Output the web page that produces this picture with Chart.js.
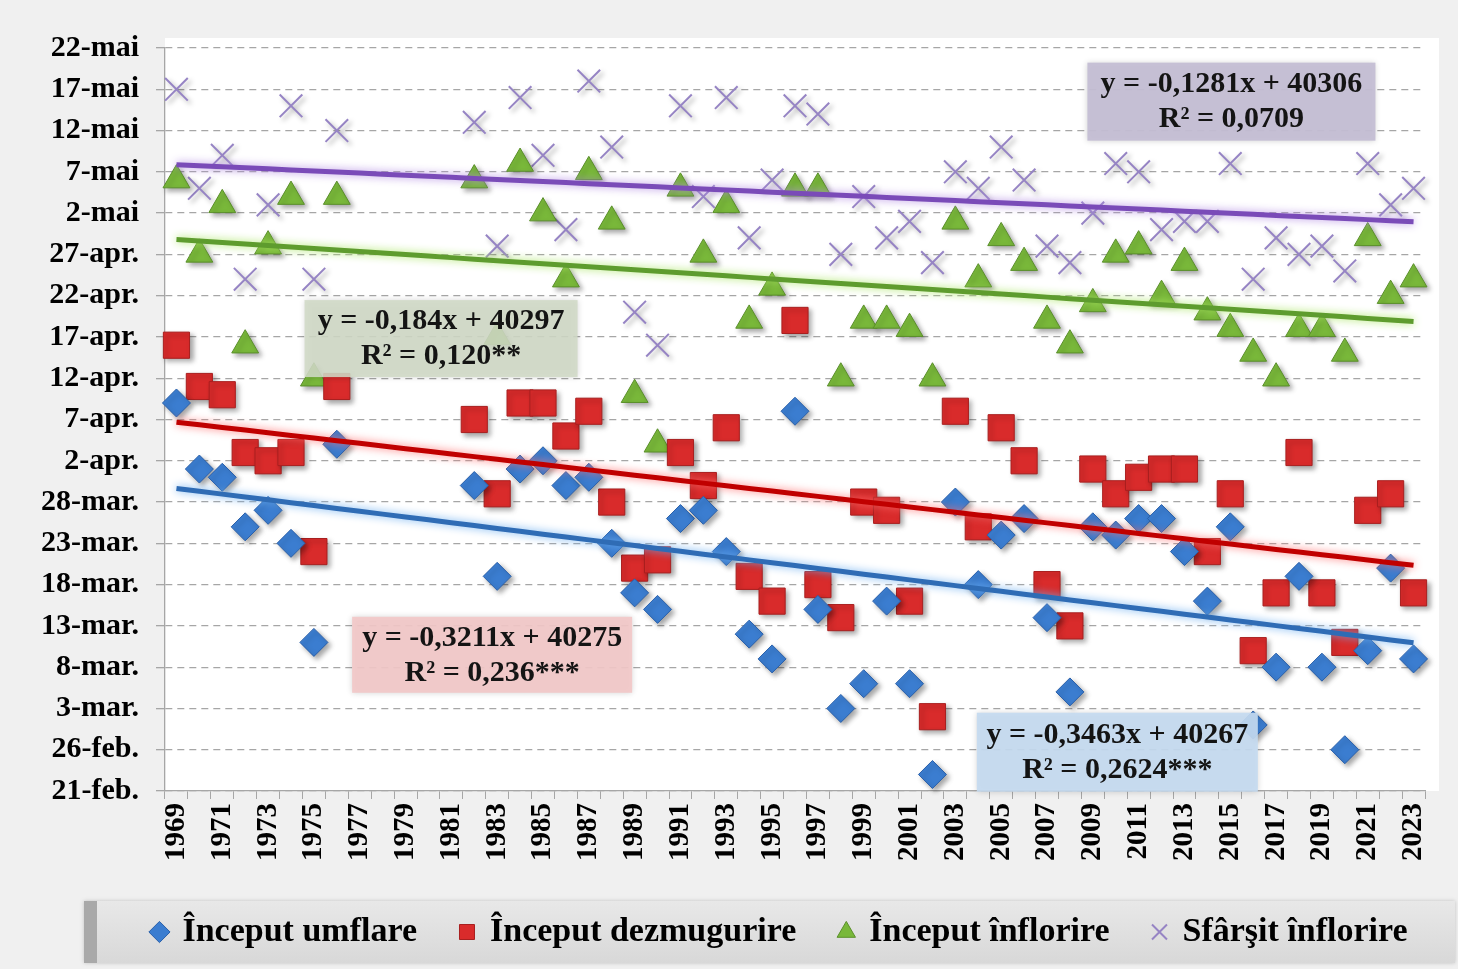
<!DOCTYPE html>
<html>
<head>
<meta charset="utf-8">
<title>Fenologie 1969-2023</title>
<script src="https://cdn.jsdelivr.net/npm/chart.js@4.4.1/dist/chart.umd.min.js"></script>
<style>
  html, body { margin: 0; padding: 0; background: #f0f0f0; }
  #wrap { width: 1458px; height: 969px; }
</style>
</head>
<body>
<div id="wrap"><canvas id="myChart"></canvas></div>
<script>
const years = [
  "1969", "1970", "1971", "1972", "1973", "1974", "1975", "1976", "1977", "1978",
  "1979", "1980", "1981", "1982", "1983", "1984", "1985", "1986", "1987", "1988",
  "1989", "1990", "1991", "1992", "1993", "1994", "1995", "1996", "1997", "1998",
  "1999", "2000", "2001", "2002", "2003", "2004", "2005", "2006", "2007", "2008",
  "2009", "2010", "2011", "2012", "2013", "2014", "2015", "2016", "2017", "2018",
  "2019", "2020", "2021", "2022", "2023"
];

// axa Y: ziua din an (52 = 21-feb ... 142 = 22-mai), din 5 in 5 zile
const yTickLabels = [
  "21-feb.", "26-feb.", "3-mar.", "8-mar.", "13-mar.", "18-mar.", "23-mar.", "28-mar.",
  "2-apr.", "7-apr.", "12-apr.", "17-apr.", "22-apr.", "27-apr.",
  "2-mai", "7-mai", "12-mai", "17-mai", "22-mai"
];

const seriesNames = ["Început umflare", "Început dezmugurire", "Început înflorire", "Sfârşit înflorire"];

// ziua din an, 1977-1981 lipsesc
const inceputUmflare = [
  99, 91, 90, 84, 86, 82, 70, 94, null, null,
  null, null, null, 89, 78, 91, 92, 89, 90, 82,
  76, 74, 85, 86, 81, 71, 68, 98, 74, 62,
  65, 75, 65, 54, 87, 77, 83, 85, 73, 64,
  84, 83, 85, 85, 81, 75, 84, 60, 67, 78,
  67, 57, 69, 79, 68
];
const inceputDezmugurire = [
  106, 101, 100, 93, 92, 93, 81, 101, null, null,
  null, null, null, 97, 88, 99, 99, 95, 98, 87,
  79, 80, 93, 89, 96, 78, 75, 109, 77, 73,
  87, 86, 75, 61, 98, 84, 96, 92, 77, 72,
  91, 88, 90, 91, 91, 81, 88, 69, 76, 93,
  76, 70, 86, 88, 76
];
const inceputInflorire = [
  126, 117, 123, 106, 118, 124, 102, 124, null, null,
  null, null, null, 126, 107, 128, 122, 114, 127, 121,
  100, 94, 125, 117, 123, 109, 113, 125, 125, 102,
  109, 109, 108, 102, 121, 114, 119, 116, 109, 106,
  111, 117, 118, 112, 116, 110, 108, 105, 102, 108,
  108, 105, 119, 112, 114
];
const sfarsitInflorire = [
  137, 125, 129, 114, 123, 135, 114, 132, null, null,
  null, null, null, 133, 118, 136, 129, 120, 138, 130,
  110, 106, 135, 124, 136, 119, 126, 135, 134, 117,
  124, 119, 121, 116, 127, 125, 130, 126, 118, 116,
  122, 128, 127, 120, 121, 121, 128, 114, 119, 117,
  118, 115, 128, 123, 125
];

// trend liniar din Excel: y = a*x + b, x = 1..55, y = data seriala Excel (anul 2010)
const trendSlopes = [-0.3463, -0.3211, -0.184, -0.1281];
const trendIntercepts = [40267, 40275, 40297, 40306];
const trendTexts = [
  ["y = -0,3463x + 40267", "R² = 0,2624***"],
  ["y = -0,3211x + 40275", "R² = 0,236***"],
  ["y = -0,184x + 40297", "R² = 0,120**"],
  ["y = -0,1281x + 40306", "R² = 0,0709"]
];
const EXCEL_DAY0 = 40178; // 31-dec-2009

const FONT = "'Liberation Serif', 'Times New Roman', serif";

const markerStyles = [
  { style: "rectRot", radius: 14, fill: "#3b7dd0", line: "#2a60aa", width: 1 },
  { style: "rect", radius: 18.5, fill: "#d92b2b", line: "#a81f1f", width: 1 },
  { style: "triangle", radius: 15.5, fill: "#79b83a", line: "#5a8f2a", width: 1 },
  { style: "crossRot", radius: 16, fill: "#9684c4", line: "#9684c4", width: 2 }
];
const trendStyles = [
  { color: "#2f6cb5", glow: "rgba(110,175,240,0.95)" },
  { color: "#c00000", glow: "rgba(255,110,110,0.9)" },
  { color: "#5e9c2e", glow: "rgba(170,230,100,0.95)" },
  { color: "#7a4bb8", glow: "rgba(175,135,225,0.9)" }
];
// casetele cu ecuatii (pozitie in unitatile axelor: index an, zi)
const eqBoxes = [
  { x: 41.07, y: 56.7, w: 281, h: 79, color: "rgba(196,218,240,0.92)" },
  { x: 13.78, y: 68.5, w: 280, h: 76, color: "rgba(242,200,200,0.92)" },
  { x: 11.55, y: 106.8, w: 273, h: 77, color: "rgba(208,218,198,0.88)" },
  { x: 46.05, y: 135.5, w: 288, h: 78, color: "rgba(196,190,212,0.95)" }
];

const markerSeries = [inceputUmflare, inceputDezmugurire, inceputInflorire, sfarsitInflorire];
const datasets = [];

markerSeries.forEach((data, k) => {
  const m = markerStyles[k];
  datasets.push({
    label: seriesNames[k],
    data: data,
    showLine: false,
    clip: false,
    order: 1,
    pointStyle: m.style,
    pointRadius: m.radius,
    pointHoverRadius: m.radius,
    backgroundColor: m.fill,
    borderColor: m.line,
    borderWidth: m.width
  });
});

trendSlopes.forEach((a, k) => {
  datasets.push({
    label: "Linear (" + seriesNames[k] + ")",
    data: years.map((_, i) => a * (i + 1) + trendIntercepts[k] - EXCEL_DAY0),
    borderColor: trendStyles[k].color,
    borderWidth: 5,
    pointRadius: 0,
    tension: 0,
    order: 0,
    isTrend: true,
    glow: trendStyles[k].glow
  });
});

const background = {
  id: "background",
  afterLayout(chart) {
    // legenda e centrata mai la dreapta in original
    chart.legend.left += 48;
    chart.legend.right += 48;
  },
  beforeDraw(chart) {
    const { ctx, chartArea, legend } = chart;
    ctx.save();
    ctx.fillStyle = "#f0f0f0";
    ctx.fillRect(0, 0, chart.width, chart.height);
    ctx.fillStyle = "#ffffff";
    ctx.fillRect(chartArea.left, chartArea.top - 10, chartArea.right - chartArea.left + 14, chartArea.bottom - chartArea.top + 10);

    // fundalul legendei
    const hb = legend.legendHitBoxes[0];
    const cy = hb.top + hb.height / 2;
    const top = cy - 31, h = 62;
    const g = ctx.createLinearGradient(0, top, 0, top + h);
    g.addColorStop(0, "#e8e8e8");
    g.addColorStop(1, "#d8d8d8");
    ctx.shadowColor = "rgba(0,0,0,0.2)";
    ctx.shadowBlur = 4;
    ctx.fillStyle = g;
    ctx.fillRect(84, top, 1371, h);
    ctx.shadowBlur = 0;
    ctx.fillStyle = "#a9a9a9";
    ctx.fillRect(84, top, 13, h);
    ctx.restore();
  }
};

const shadows = {
  id: "shadows",
  beforeDatasetDraw(chart, args) {
    const ds = chart.data.datasets[args.index];
    const ctx = chart.ctx;
    ctx.save();
    if (ds.isTrend) {
      ctx.shadowColor = ds.glow;
      ctx.shadowBlur = 9;
    } else {
      ctx.shadowColor = "rgba(0,0,0,0.35)";
      ctx.shadowBlur = 5;
      ctx.shadowOffsetX = 3;
      ctx.shadowOffsetY = 3;
    }
  },
  afterDatasetDraw(chart) {
    chart.ctx.restore();
  }
};

const equations = {
  id: "equations",
  afterDatasetsDraw(chart) {
    const { ctx } = chart;
    const x = chart.scales.x, y = chart.scales.y;
    eqBoxes.forEach((b, k) => {
      const cx = x.getPixelForValue(b.x);
      const cy = y.getPixelForValue(b.y);
      ctx.save();
      ctx.shadowColor = "rgba(0,0,0,0.18)";
      ctx.shadowBlur = 6;
      ctx.fillStyle = b.color;
      ctx.fillRect(cx - b.w / 2, cy - b.h / 2, b.w, b.h);
      ctx.restore();

      ctx.save();
      ctx.font = "bold 30px " + FONT;
      ctx.fillStyle = "#141414";
      ctx.textAlign = "center";
      ctx.textBaseline = "middle";
      ctx.fillText(trendTexts[k][0], cx, cy - 17);
      ctx.fillText(trendTexts[k][1], cx, cy + 18);
      ctx.restore();
    });
  }
};

const ctx = document.getElementById("myChart").getContext("2d");
window.myChart = new Chart(ctx, {
  type: "line",
  data: {
    labels: years,
    datasets: datasets
  },
  options: {
    responsive: true,
    maintainAspectRatio: false,
    animation: false,
    layout: {
      padding: { top: 48, right: 33, bottom: 10, left: 40 }
    },
    plugins: {
      legend: {
        position: "bottom",
        labels: {
          filter: (item) => item.datasetIndex < 4,
          usePointStyle: true,
          boxWidth: 12,
          boxHeight: 15,
          padding: 44,
          color: "#000",
          font: { family: FONT, size: 34, weight: "bold" }
        }
      },
      tooltip: { enabled: false }
    },
    scales: {
      x: {
        offset: true,
        afterFit: (s) => { s.height = 80; },
        grid: {
          drawOnChartArea: false,
          offset: true,
          tickLength: 8,
          color: "#a6a6a6"
        },
        border: { color: "#a6a6a6", width: 1.3 },
        ticks: {
          autoSkip: false,
          maxRotation: 90,
          minRotation: 90,
          padding: 4,
          color: "#000",
          font: { family: FONT, size: 29, weight: "bold" },
          callback: (v, i) => (i % 2 === 0 ? years[i] : "")
        }
      },
      y: {
        min: 52,
        max: 142,
        afterFit: (s) => { s.width = 125; },
        grid: {
          color: "#a6a6a6",
          lineWidth: 1.3,
          tickLength: 9
        },
        border: { color: "#a6a6a6", width: 1.3, dash: [7, 5] },
        ticks: {
          stepSize: 5,
          autoSkip: false,
          padding: 17,
          color: "#000",
          font: { family: FONT, size: 30, weight: "bold" },
          callback: (v) => yTickLabels[Math.round((v - 52) / 5)]
        }
      }
    }
  },
  plugins: [background, shadows, equations]
});
</script>
</body>
</html>
